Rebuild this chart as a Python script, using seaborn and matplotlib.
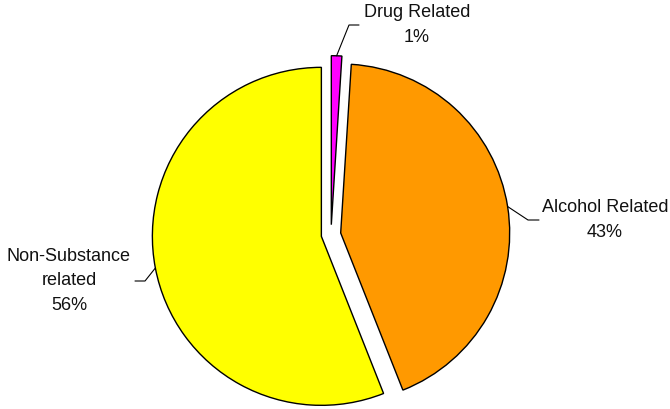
import matplotlib
matplotlib.use("Agg")
import matplotlib.pyplot as plt
import seaborn as sns
import numpy as np

categories = ["Drug Related", "Alcohol Related", "Non-Substance\nrelated"]
values = [1, 43, 56]
pct_labels = ["1%", "43%", "56%"]
colors = ["#FF00FF", "#FF9900", "#FFFF00"]

sns.set_style("white")
plt.rcParams['font.family'] = ['Liberation Sans', 'DejaVu Sans']

W, H = 670, 410
fig = plt.figure(figsize=(W / 100, H / 100), dpi=100)
ax = fig.add_axes([0, 0, 1, 1])

# pixel-to-data mapping (pie center and radius in pixels)
cx, cy, R = 331, 235.5, 169
ax.axis("off")

wedges, _ = ax.pie(values, colors=colors, startangle=90, counterclock=False,
                   explode=[0.058] * 3, radius=1,
                   wedgeprops=dict(edgecolor="black", linewidth=1.0))
ax.set_xlim(-cx / R, (W - cx) / R)
ax.set_ylim(-(H - cy) / R, cy / R)
ax.set_aspect("auto")

def px(x, y):
    return ((x - cx) / R, (cy - y) / R)

# label layout (pixel positions): elbow, line end, text center
layout = [
    dict(elbow=(349, 26), end=(359, 26), text=(417, 25)),
    dict(elbow=(528, 221), end=(539, 221), text=(605, 220)),
    dict(elbow=(145, 282), end=(135, 282), text=(69, 281)),
]

for w, cat, pct, lay in zip(wedges, categories, pct_labels, layout):
    mid = np.deg2rad((w.theta1 + w.theta2) / 2)
    c = w.center
    ax_x = c[0] + np.cos(mid)
    ax_y = c[1] + np.sin(mid)
    ex, ey = px(*lay["elbow"])
    nx, ny = px(*lay["end"])
    ax.plot([ax_x, ex, nx], [ax_y, ey, ny], color="black", lw=0.8)
    tx, ty = px(*lay["text"])
    ax.text(tx, ty, f"{cat}\n{pct}", ha="center", va="center",
            fontsize=13, color="#111111", linespacing=1.55)

fig.savefig("out.png", dpi=100)
